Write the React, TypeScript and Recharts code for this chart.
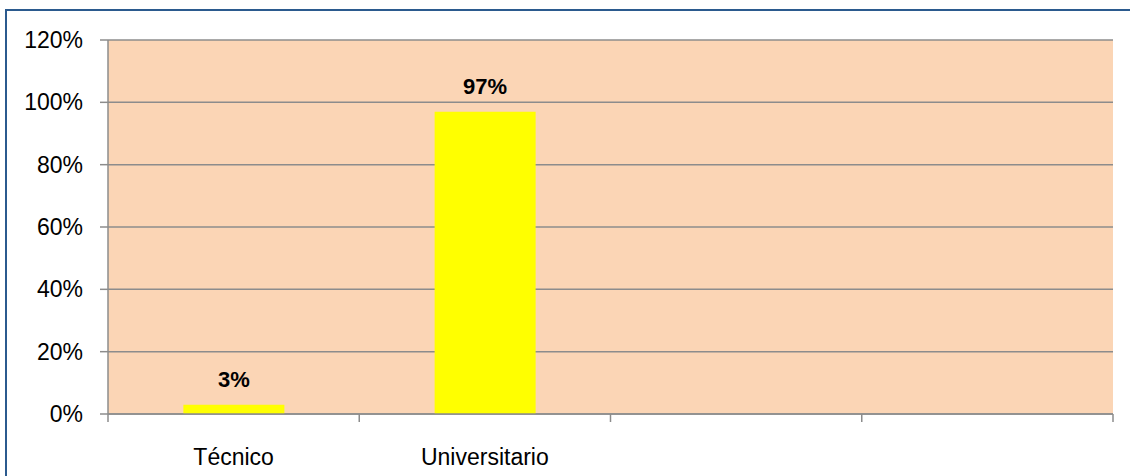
import React from 'react';
import { BarChart, Bar, XAxis, YAxis, CartesianGrid, LabelList } from 'recharts';

const categories = ['Técnico', 'Universitario', '', ''];
const values: (number | null)[] = [0.03, 0.97, null, null];
const yTicks = [0, 0.2, 0.4, 0.6, 0.8, 1.0, 1.2];

const data = categories.map((c, i) => ({ cat: c, value: values[i] }));

const FONT = '"Liberation Sans", Arial, sans-serif';
const AXIS = '#8C8C8C';
const pct = (v: number) => `${Math.round(v * 100)}%`;

const CatTick = (props: any) => {
  const { x, y, payload, index, visibleTicksCount } = props;
  const half = payload?.offset ?? 0;
  const top = y - 8;
  const isLast = index === (visibleTicksCount ?? categories.length) - 1;
  return (
    <g>
      <line x1={x - half} x2={x - half} y1={top} y2={top + 8} stroke={AXIS} strokeWidth={1.5} />
      {isLast && (
        <line x1={x + half} x2={x + half} y1={top} y2={top + 8} stroke={AXIS} strokeWidth={1.5} />
      )}
      <text
        x={x}
        y={top + 51}
        textAnchor="middle"
        fill="#000"
        fontSize={23}
        fontFamily={FONT}
      >
        {payload?.value}
      </text>
    </g>
  );
};

export default function App() {
  return (
    <div style={{ position: 'absolute', left: 0, top: 0, width: 1130, height: 476, overflow: 'hidden', background: '#fff' }}>
      <div
        style={{
          position: 'absolute',
          left: 5,
          top: 9,
          width: 1300,
          height: 700,
          border: '2px solid #2B5A8E',
          boxSizing: 'border-box',
        }}
      />
      <div style={{ position: 'absolute', left: 0, top: 0 }}>
        <BarChart
          width={1130}
          height={476}
          data={data}
          margin={{ top: 40, right: 17, bottom: 0, left: 0 }}
          barCategoryGap="30%"
        >
          <CartesianGrid
            vertical={false}
            fill="#FBD5B5"
            fillOpacity={1}
            stroke={AXIS}
            strokeWidth={1.5}
          />
          <XAxis
            dataKey="cat"
            type="category"
            height={62}
            tickLine={false}
            tickSize={8}
            tickMargin={0}
            interval={0}
            stroke={AXIS}
            strokeWidth={1.5}
            tick={<CatTick />}
          />
          <YAxis
            domain={[0, 1.2]}
            ticks={yTicks}
            width={108}
            tickSize={8}
            tickMargin={17}
            tickFormatter={pct}
            stroke={AXIS}
            strokeWidth={1.5}
            tick={{ fill: '#000', fontSize: 23, fontFamily: FONT }}
            interval={0}
          />
          <Bar dataKey="value" fill="#FFFF00" isAnimationActive={false}>
            <LabelList
              dataKey="value"
              position="top"
              offset={18}
              formatter={(v: any) => (v == null ? '' : pct(Number(v)))}
              style={{ fill: '#000', fontSize: 22, fontWeight: 'bold', fontFamily: FONT }}
            />
          </Bar>
        </BarChart>
      </div>
    </div>
  );
}
